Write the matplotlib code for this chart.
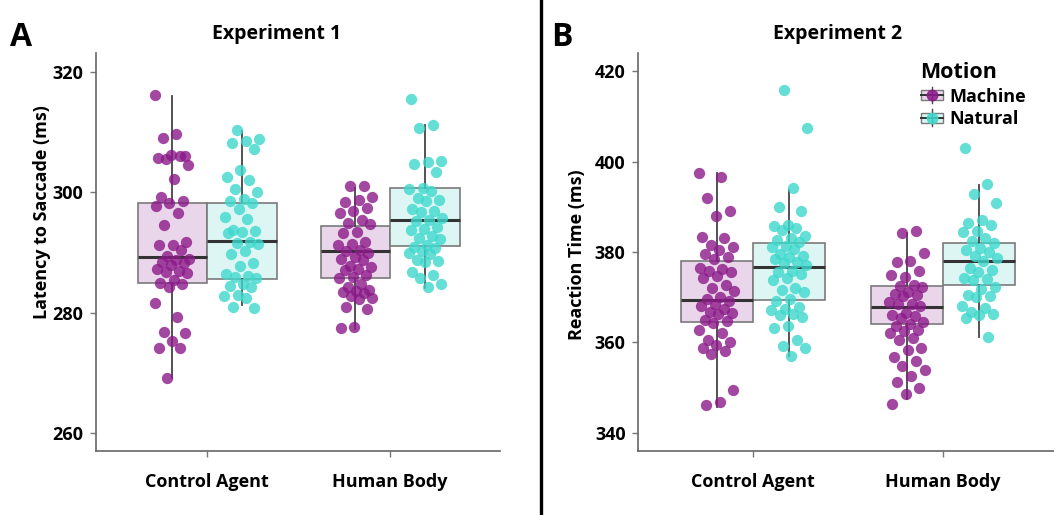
import matplotlib
matplotlib.use('Agg')
import matplotlib.pyplot as plt
import numpy as np
from matplotlib.legend_handler import HandlerBase
from matplotlib.patches import Rectangle
from matplotlib.lines import Line2D

plt.rcParams['font.family'] = ['Open Sans', 'DejaVu Sans']

categories = ['Control Agent', 'Human Body']
motions = ['Machine', 'Natural']

# ---- Experiment 1 (Latency to Saccade, ms) ----
A_ctrl_machine = [316.2, 309.7, 309.0, 306.0, 306.3, 305.8, 306.1, 305.6, 304.6, 302.3, 299.2, 298.5,
                  298.2, 297.8, 296.6, 294.6, 291.7, 291.3, 291.2, 290.4, 289.5, 289.0, 288.8, 288.5,
                  288.2, 287.9, 287.3, 287.0, 286.8, 286.6, 285.4, 285.0, 284.7, 284.3, 281.6, 279.3,
                  276.8, 276.7, 275.3, 274.2, 274.1, 269.2]
A_ctrl_natural = [310.4, 308.9, 308.5, 308.2, 307.2, 303.8, 302.5, 302.1, 300.6, 300.0, 298.9, 298.5,
                  298.2, 297.3, 296.0, 295.6, 293.8, 293.6, 293.4, 293.2, 291.8, 291.6, 291.4, 290.2,
                  289.8, 288.2, 287.8, 286.4, 286.1, 285.9, 285.7, 284.8, 284.5, 284.2, 283.0, 282.7,
                  282.4, 281.0, 280.8]
A_human_machine = [301.1, 301.0, 299.3, 298.7, 298.4, 297.4, 297.0, 296.6, 295.4, 295.0, 294.7, 293.4,
                   293.2, 291.8, 291.5, 291.2, 290.4, 290.2, 290.0, 289.2, 289.0, 288.8, 287.8, 287.6,
                   287.3, 287.1, 286.2, 286.0, 285.8, 284.8, 284.2, 283.8, 283.6, 283.4, 283.2, 282.7,
                   282.5, 282.3, 280.9, 280.7, 277.6, 277.4]
A_human_natural = [315.6, 311.3, 310.8, 305.3, 305.0, 304.8, 303.4, 300.8, 300.5, 300.2, 299.0, 298.8,
                   298.6, 297.2, 297.0, 296.8, 295.7, 295.5, 295.3, 294.2, 294.0, 293.8, 292.7, 292.5,
                   292.3, 291.2, 291.0, 290.8, 290.2, 290.0, 289.8, 288.8, 288.6, 288.4, 286.8, 286.2,
                   285.8, 284.8, 284.2]
# box statistics, order: ctrl-machine, ctrl-natural, human-machine, human-natural
A_q1 = [284.9, 285.6, 285.7, 291.1]
A_med = [289.2, 292.0, 290.2, 295.4]
A_q3 = [298.3, 298.3, 294.4, 300.7]
A_lo = [269.2, 281.3, 277.3, 284.1]
A_hi = [316.0, 310.2, 300.7, 311.2]
A_yticks = [260, 280, 300, 320]

# ---- Experiment 2 (Reaction Time, ms) ----
B_ctrl_machine = [397.5, 396.5, 391.9, 389.0, 388.0, 383.4, 383.0, 381.5, 381.0, 380.5, 379.5, 379.0,
                  378.5, 376.5, 376.2, 375.8, 375.5, 374.8, 374.2, 372.8, 372.0, 371.3, 370.0, 369.6,
                  369.2, 368.5, 368.0, 367.5, 366.8, 366.5, 366.2, 365.0, 364.7, 364.4, 362.8, 362.2,
                  360.5, 360.1, 359.5, 358.8, 358.2, 357.5, 349.5, 346.8, 346.2]
B_ctrl_natural = [415.8, 407.4, 394.1, 390.0, 389.0, 386.0, 385.8, 385.2, 384.8, 383.5, 383.0, 382.6,
                  382.2, 381.3, 381.0, 380.6, 379.5, 379.2, 378.8, 378.5, 377.8, 377.5, 377.2, 375.8,
                  375.5, 375.2, 374.3, 373.8, 372.0, 371.5, 371.2, 369.6, 369.2, 367.8, 367.5, 367.2,
                  366.4, 366.0, 365.6, 363.7, 363.3, 360.5, 359.2, 358.8, 356.9]
B_human_machine = [384.6, 384.2, 379.7, 378.0, 377.8, 375.8, 374.5, 375.0, 372.8, 372.5, 372.2, 371.2,
                   370.8, 370.5, 370.3, 369.0, 368.6, 368.4, 368.0, 366.5, 366.0, 365.8, 365.5, 364.5,
                   364.0, 363.6, 362.8, 362.5, 362.2, 361.0, 360.6, 358.8, 358.4, 356.8, 356.0, 354.8,
                   354.0, 352.5, 351.3, 350.0, 348.5, 346.5]
B_human_natural = [402.9, 395.0, 392.8, 390.8, 387.0, 386.5, 386.0, 384.6, 384.4, 383.0, 382.4, 382.0,
                   380.8, 380.4, 380.0, 379.2, 378.6, 378.0, 376.5, 376.0, 375.5, 374.3, 374.0, 373.8,
                   372.2, 371.8, 370.6, 370.3, 370.0, 368.0, 367.6, 366.8, 366.3, 366.0, 365.5, 361.2]
B_q1 = [364.5, 369.4, 364.1, 372.6]
B_med = [369.4, 376.6, 367.8, 378.1]
B_q3 = [377.9, 382.1, 372.5, 382.1]
B_lo = [345.8, 356.9, 347.5, 361.2]
B_hi = [397.4, 393.7, 384.3, 394.8]
B_yticks = [340, 360, 380, 400, 420]

# ---- styles ----
PT_COL = {'Machine': '#8B1A89', 'Natural': '#3ED8CC'}
BOX_COL = {'Machine': '#EAD6EA', 'Natural': '#DDF6F4'}
EDGE = '#7A7A7A'
DODGE = 0.19
BOXW = 0.38


def draw_panel(ax, groups, q1, med, q3, lo, hi, ylim, yticks, xlim):
    stats, positions, faces = [], [], []
    k = 0
    for ci, cat in enumerate(categories):
        for mi, mo in enumerate(motions):
            pos = ci + (-DODGE if mi == 0 else DODGE)
            stats.append(dict(med=med[k], q1=q1[k], q3=q3[k], whislo=lo[k], whishi=hi[k], fliers=[]))
            positions.append(pos)
            faces.append(BOX_COL[mo])
            k += 1
    bp = ax.bxp(stats, positions=positions, widths=BOXW, patch_artist=True, showcaps=False,
                showfliers=False,
                boxprops=dict(edgecolor=EDGE, linewidth=1.2),
                medianprops=dict(color='#333333', linewidth=2.2),
                whiskerprops=dict(color='#444444', linewidth=1.3), zorder=1)
    for b, f in zip(bp['boxes'], faces):
        b.set_facecolor(f)
    k = 0
    for ci, cat in enumerate(categories):
        for mi, mo in enumerate(motions):
            vals = np.asarray(groups[k])
            n = len(vals)
            jit = ((np.arange(n) * 0.6180339887 + 0.37 * k) % 1.0 - 0.5) * 0.19
            ax.scatter(positions[k] + jit, vals, s=66, color=PT_COL[mo], alpha=0.8,
                       linewidths=0, zorder=3)
            k += 1
    ax.set_xlim(*xlim)
    ax.set_ylim(*ylim)
    ax.set_yticks(yticks)
    ax.set_xticks(range(len(categories)))
    ax.set_xticklabels(categories)
    for s in ['top', 'right']:
        ax.spines[s].set_visible(False)
    for s in ['left', 'bottom']:
        ax.spines[s].set_color('#666666')
        ax.spines[s].set_linewidth(1.2)
    ax.tick_params(axis='both', length=4, width=1, color='#777777', labelsize=13)
    ax.tick_params(axis='x', pad=12)
    ax.tick_params(axis='y', pad=5)
    for t in ax.get_xticklabels() + ax.get_yticklabels():
        t.set_fontweight('bold')
    ax.set_facecolor('none')


fig = plt.figure(figsize=(10.54, 5.15), dpi=100)
W, H = 1054, 515
axA = fig.add_axes([96 / W, 1 - 451 / H, (500 - 96) / W, (451 - 53) / H])
axB = fig.add_axes([638 / W, 1 - 451 / H, (W - 638) / W, (451 - 53) / H])

draw_panel(axA, [A_ctrl_machine, A_ctrl_natural, A_human_machine, A_human_natural],
           A_q1, A_med, A_q3, A_lo, A_hi, (257.0, 323.2), A_yticks, (-0.607, 1.601))
draw_panel(axB, [B_ctrl_machine, B_ctrl_natural, B_human_machine, B_human_natural],
           B_q1, B_med, B_q3, B_lo, B_hi, (336.0, 424.0), B_yticks, (-0.605, 1.584))

# titles, panel letters, axis labels
fig.text(277 / W, 1 - 34 / H, 'Experiment 1', ha='center', va='center', fontsize=14, fontweight='bold')
fig.text(838 / W, 1 - 34 / H, 'Experiment 2', ha='center', va='center', fontsize=14, fontweight='bold')
fig.text(21 / W, 1 - 38 / H, 'A', ha='center', va='center', fontsize=23, fontweight='bold')
fig.text(562 / W, 1 - 38 / H, 'B', ha='center', va='center', fontsize=23, fontweight='bold')
fig.text(42 / W, 1 - 212 / H, 'Latency to Saccade (ms)', rotation=90, ha='center', va='center',
         fontsize=13, fontweight='bold')
fig.text(577 / W, 1 - 255 / H, 'Reaction Time (ms)', rotation=90, ha='center', va='center',
         fontsize=13, fontweight='bold')

# divider between panels
fig.add_artist(Line2D([541 / W, 541 / W], [0, 1], transform=fig.transFigure, color='black', linewidth=2.4))


class BoxHandler(HandlerBase):
    def create_artists(self, legend, orig_handle, xdescent, ydescent, width, height, fontsize, trans):
        mo = orig_handle
        cx = width / 2 - xdescent
        cy = height / 2 - ydescent
        bw, bh = width * 0.95, height * 0.8
        rect = Rectangle((cx - bw / 2, cy - bh / 2), bw, bh, facecolor=BOX_COL[mo], edgecolor=EDGE,
                         linewidth=1.0, transform=trans)
        vline = Line2D([cx, cx], [cy - height * 0.65, cy + height * 0.65], color='#444444', linewidth=1.0,
                       transform=trans)
        hline = Line2D([cx - bw / 2, cx + bw / 2], [cy, cy], color='#333333', linewidth=1.4, transform=trans)
        dot = Line2D([cx], [cy], marker='o', markersize=7.5, color=PT_COL[mo], alpha=0.85,
                     linestyle='none', transform=trans)
        return [rect, vline, hline, dot]


leg = fig.legend(motions, motions, handler_map={str: BoxHandler()},
                 loc='upper left', bbox_to_anchor=(920 / W, 1 - 62 / H), frameon=False,
                 title='Motion', alignment='left', fontsize=13, handlelength=1.3,
                 handletextpad=0.3, labelspacing=0.25, borderpad=0, borderaxespad=0)
leg.get_title().set_fontweight('bold')
leg.get_title().set_fontsize(15.5)
for t in leg.get_texts():
    t.set_fontweight('bold')

fig.savefig('out.png', dpi=100)
